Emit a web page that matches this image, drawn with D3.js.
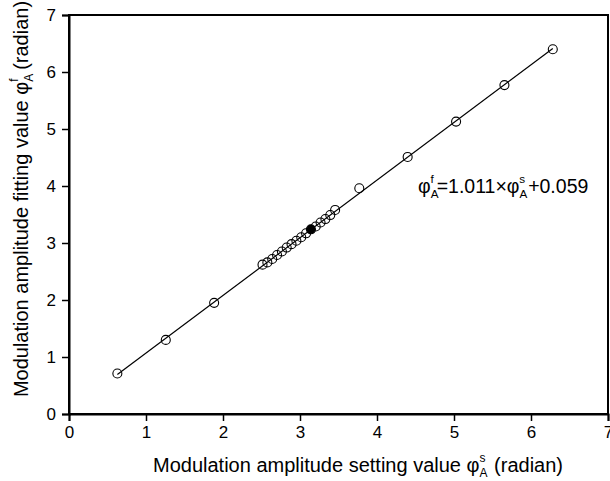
<!DOCTYPE html>
<html lang="en">
<head>
<meta charset="utf-8">
<script src="https://cdn.jsdelivr.net/npm/d3@7"></script>
<style>
  body { margin: 0; background: #fff; }
  text { font-family: "Liberation Sans", Arial, sans-serif; fill: #000; }
</style>
</head>
<body>
<div id="chart"></div>
<script>
// measured points (setting value vs fitted value), radians
const settingValues = [0.628, 1.257, 1.885, 2.513, 2.576, 2.639, 2.702, 2.765, 2.827, 2.890,
                       2.953, 3.016, 3.079, 3.142, 3.204, 3.267, 3.330, 3.393, 3.456,
                       3.770, 4.398, 5.027, 5.655, 6.283]
const fittingValues = [0.71, 1.30, 1.95, 2.62, 2.66, 2.72, 2.79, 2.85, 2.92, 2.98,
                       3.04, 3.10, 3.17, 3.24, 3.29, 3.36, 3.42, 3.49, 3.58,
                       3.96, 4.51, 5.13, 5.77, 6.40]
const filledPoint = 3.142   // the one solid marker
// linear fit
const fitSlope = 1.011
const fitIntercept = 0.059
const fitRange = [0.628, 6.283]
const xTicks = [0, 1, 2, 3, 4, 5, 6, 7]
const yTicks = [0, 1, 2, 3, 4, 5, 6, 7]

const w = 610
const h = 481
const padL = 69, padR = 608, padT = 15, padB = 414

let svg = d3.select('#chart').append('svg')
            .attr('width', w)
            .attr('height', h)

let x = d3.scaleLinear().domain([0, 7]).range([padL, padR])
let y = d3.scaleLinear().domain([0, 7]).range([padB, padT])

// frame
svg.append('rect')
   .attr('x', padL).attr('y', padT)
   .attr('width', padR - padL).attr('height', padB - padT)
   .attr('fill', 'none').attr('stroke', '#000').attr('stroke-width', 2)

// minor ticks then major ones
let minor = d3.range(0.5, 7, 1)
let xAxis = svg.append('g').attr('transform', 'translate(0,' + padB + ')')
xAxis.call(d3.axisBottom(x).tickValues(minor).tickSize(4).tickFormat(''))
xAxis.call(d3.axisBottom(x).tickValues(xTicks).tickSize(7).tickPadding(5).tickFormat(d3.format('d')))
let yAxis = svg.append('g').attr('transform', 'translate(' + padL + ',0)')
yAxis.call(d3.axisLeft(y).tickValues(minor).tickSize(4).tickFormat(''))
yAxis.call(d3.axisLeft(y).tickValues(yTicks).tickSize(7).tickPadding(6).tickFormat(d3.format('d')))

svg.selectAll('.domain').attr('stroke-width', 2)
svg.selectAll('.tick line').attr('stroke-width', 1.5)
svg.selectAll('.tick text').attr('font-size', 17)
   .style('font-family', '"Liberation Sans", Arial, sans-serif')

// fit line
svg.append('line')
   .attr('x1', x(fitRange[0])).attr('y1', y(fitSlope * fitRange[0] + fitIntercept))
   .attr('x2', x(fitRange[1])).attr('y2', y(fitSlope * fitRange[1] + fitIntercept))
   .attr('stroke', '#000').attr('stroke-width', 1.2)

// markers
svg.selectAll('circle.pt')
   .data(settingValues)
   .enter()
   .append('circle')
   .attr('class', 'pt')
   .attr('cx', function(d) { return x(d) })
   .attr('cy', function(d, i) { return y(fittingValues[i]) })
   .attr('r', 4.5)
   .attr('fill', function(d) { return d === filledPoint ? '#000' : 'none' })
   .attr('stroke', '#000')
   .attr('stroke-width', 1.1)

// phi with stacked sub/superscript; the next tspan brings the baseline back
function phi(t, sup, after) {
  t.append('tspan').text('φ')
  t.append('tspan').attr('font-size', '0.6em').attr('dy', 5).text('A')
  t.append('tspan').attr('font-size', '0.6em').attr('dx', -8).attr('dy', -15).text(sup)
  t.append('tspan').attr('dy', 10).attr('dx', 3).text(after)
}

// equation
let eq = svg.append('text').attr('x', 418).attr('y', 193).attr('font-size', 19.5)
phi(eq, 'f', '=1.011×')
phi(eq, 's', '+0.059')

// x label
let xl = svg.append('text').attr('x', 358).attr('y', 472)
            .attr('font-size', 20).attr('text-anchor', 'middle')
xl.append('tspan').text('Modulation amplitude setting value ')
phi(xl, 's', ' (radian)')

// y label
let yl = svg.append('text').attr('transform', 'translate(28,199) rotate(-90)')
            .attr('font-size', 20).attr('text-anchor', 'middle')
yl.append('tspan').text('Modulation amplitude fitting value ')
phi(yl, 'f', ' (radian)')
</script>
</body>
</html>
